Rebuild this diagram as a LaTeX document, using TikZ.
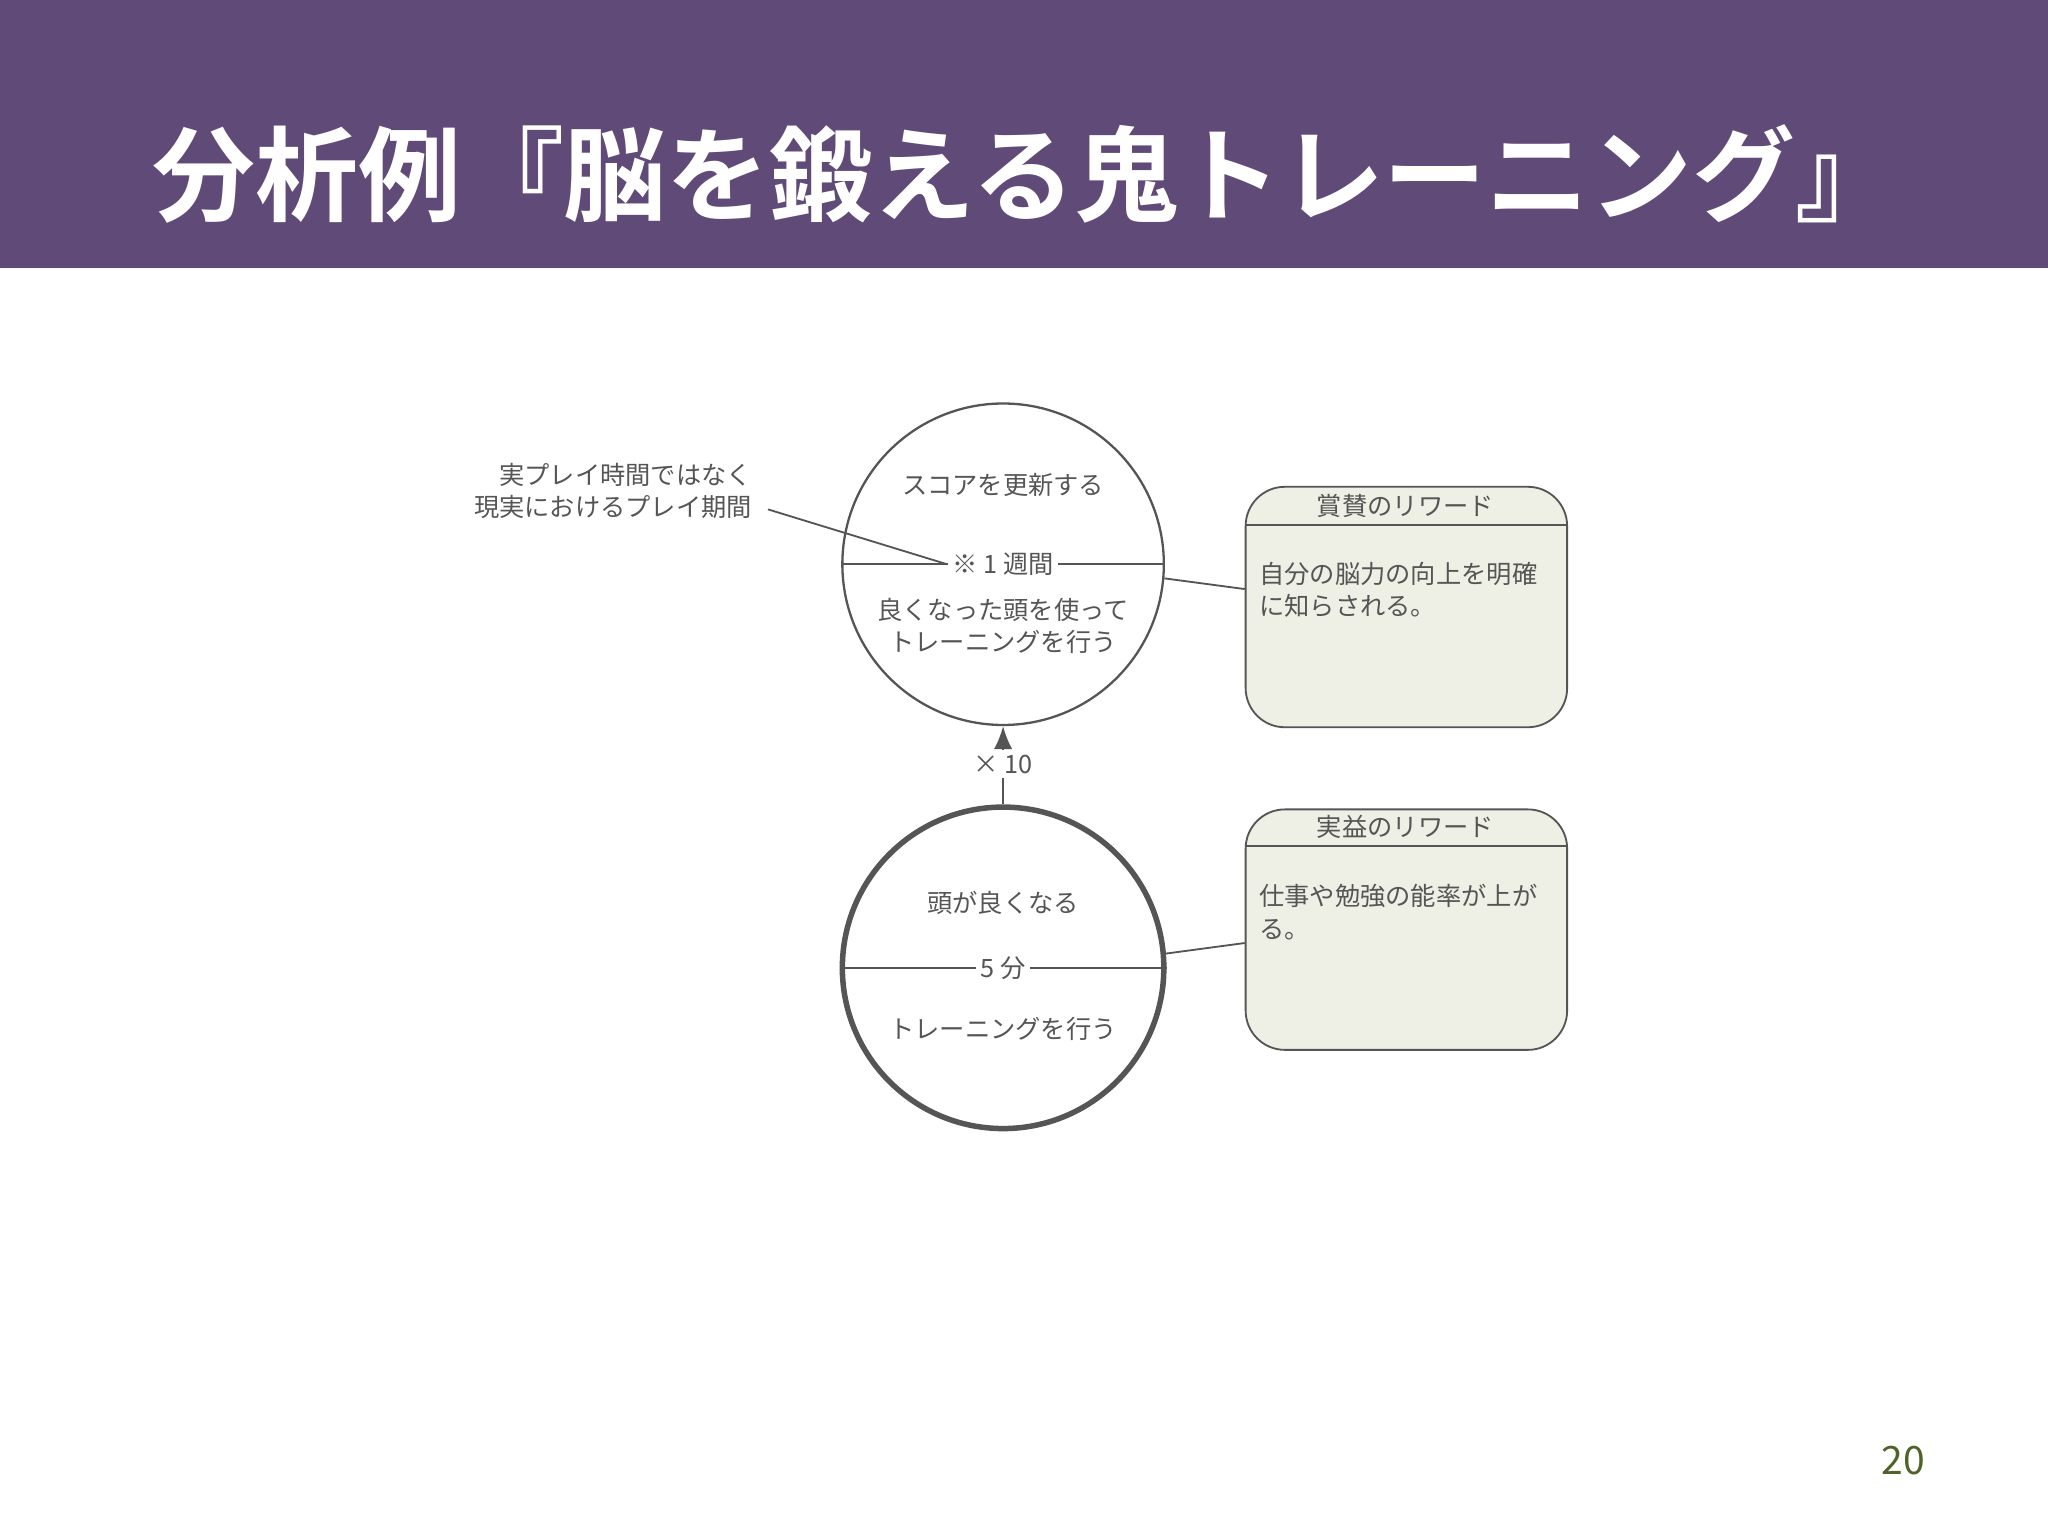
\documentclass[tikz,border=0pt]{standalone}
\usepackage{fontspec}
\setmainfont{Noto Sans CJK JP}
\newfontfamily\jpb{Noto Sans CJK JP Bold}
\usetikzlibrary{calc,arrows.meta}
\definecolor{band}{HTML}{5F4A78}
\definecolor{txt}{HTML}{555555}
\definecolor{boxfill}{HTML}{EEF0E6}
\definecolor{pgnum}{HTML}{4F6228}
\tikzset{
  lbl/.style={font=\fontsize{5.5pt}{7pt}\selectfont, text=txt, inner sep=1pt},
  loop/.style={circle, draw=txt, minimum size=2.46cm, inner sep=0pt},
  rbox/.style={draw=txt, fill=boxfill, rounded corners=0.3cm, minimum width=2.46cm, minimum height=1.84cm, inner sep=0pt},
  conn/.style={draw=txt, line width=0.4pt}
}
\begin{document}
\begin{tikzpicture}[x=0.01cm,y=-0.01cm]
\useasboundingbox (0,0) rectangle (1568,1176);
\fill[band] (0,0) rectangle (1568,205);
\node[anchor=west, text=white, font=\jpb\fontsize{22.4pt}{27pt}\selectfont, inner sep=0pt] (title) at (116,133) {分析例『脳を鍛える鬼トレーニング』};
\node[text=pgnum, font=\fontsize{8.5pt}{10pt}\selectfont] (pg) at (1457,1118) {20};

% circles
\node[loop, line width=0.5pt] (c1) at (768,432) {};
\node[loop, line width=1.2pt] (c2) at (768,741) {};
\draw[conn] (c1.west) -- (c1.east);
\draw[conn] (c2.west) -- (c2.east);
\node[lbl] (c1t) at (768,371) {スコアを更新する};
\node[lbl, fill=white] (c1m) at (768,432) {※ 1 週間};
\node[lbl, align=center] (c1b) at (768,479) {良くなった頭を使って\\トレーニングを行う};
\node[lbl] (c2t) at (768,691) {頭が良くなる};
\node[lbl, fill=white] (c2m) at (768,741) {5 分};
\node[lbl] (c2b) at (768,788) {トレーニングを行う};

% arrow
\draw[conn, -{Latex[length=5pt,width=4pt]}] (c2.north) -- (c1.south);
\node[lbl, fill=white] (x10) at (768,585) {× 10};

% annotation
\node[lbl, align=right, anchor=east] (ann) at (580,376) {実プレイ時間ではなく\\現実におけるプレイ期間};
\draw[conn] (588,390) -- (c1m.west);

% reward boxes
\node[rbox, anchor=north west] (b1) at (953,372) {};
\draw[conn] ($(b1.north west)+(0,30)$) -- ($(b1.north east)+(0,30)$);
\node[lbl] (b1t) at (1076,387) {賞賛のリワード};
\node[lbl, anchor=north west, align=left] (b1b) at (960,426) {自分の脳力の向上を明確\\に知らされる。};
\node[rbox, anchor=north west] (b2) at (953,619) {};
\draw[conn] ($(b2.north west)+(0,29)$) -- ($(b2.north east)+(0,29)$);
\node[lbl] (b2t) at (1076,633) {実益のリワード};
\node[lbl, anchor=north west, align=left] (b2b) at (960,673) {仕事や勉強の能率が上が\\る。};

\draw[conn] (c1.-5) -- ($(b1.north west)+(0,79)$);
\draw[conn] (c2.5) -- ($(b2.north west)+(0,103)$);
\end{tikzpicture}
\end{document}
